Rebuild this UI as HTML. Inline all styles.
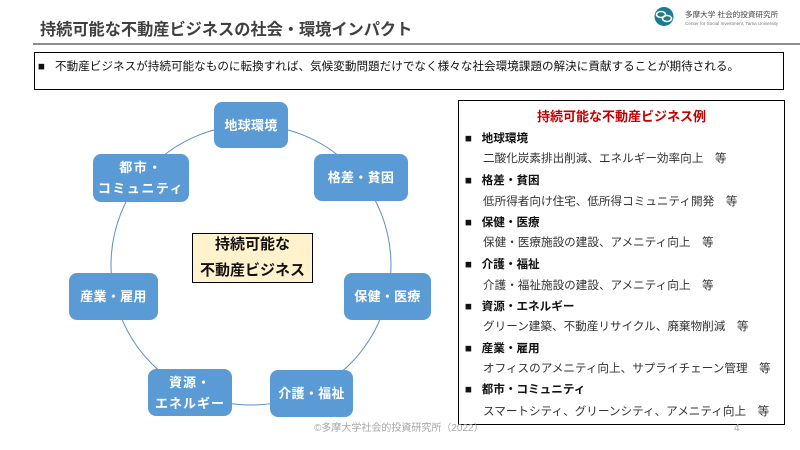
<!DOCTYPE html>
<html><head><meta charset="utf-8">
<style>
*{margin:0;padding:0;box-sizing:border-box}
body{width:800px;height:450px;background:#fff;position:relative;overflow:hidden;font-family:"Liberation Sans","Noto Sans CJK JP",sans-serif;}
.a{position:absolute;white-space:nowrap}
.node{position:absolute;background:#5b9bd5;border-radius:8px;color:#fff;font-weight:bold;font-size:13px;display:flex;flex-direction:column;align-items:center;justify-content:center;line-height:21px;letter-spacing:0.3px}
.li{position:absolute;left:465px;font-size:11.6px;line-height:20px;height:20px;white-space:nowrap}
.h{font-weight:bold;color:#111}
.d{color:#333;left:483px}
</style></head><body>
<div class="a" style="left:40px;top:19px;font-size:16.2px;font-weight:bold;color:#404040;line-height:22px">持続可能な不動産ビジネスの社会・環境インパクト</div>
<div class="a" style="left:33px;top:43px;width:767px;height:2px;background:#8e8e8e"></div>
<!-- logo -->
<svg class="a" style="left:650px;top:4px" width="30" height="26" viewBox="0 0 30 26">
<circle cx="14" cy="12.5" r="9.5" fill="#1b7c8f"/>
<ellipse cx="11" cy="10.5" rx="4.5" ry="3" fill="none" stroke="#fff" stroke-width="1.6"/>
<ellipse cx="17" cy="14.5" rx="4.5" ry="3" fill="none" stroke="#fff" stroke-width="1.6"/>
</svg>
<div class="a" style="left:685px;top:10px;font-size:7.6px;color:#444;line-height:10px">多摩大学 社会的投資研究所</div>
<div class="a" style="left:685px;top:21px;font-size:4.6px;color:#777;line-height:6px">Center for Social Investment, Tama University</div>
<!-- main box -->
<div class="a" style="left:34px;top:52px;width:750px;height:38px;border:1px solid #000"></div>
<div class="a" style="left:38px;top:59px;font-size:11.6px;line-height:16px;color:#111">■</div>
<div class="a" style="left:55px;top:59px;font-size:11.6px;line-height:16px;color:#111">不動産ビジネスが持続可能なものに転換すれば、気候変動問題だけでなく様々な社会環境課題の解決に貢献することが期待される。</div>
<!-- circle -->
<svg class="a" style="left:0;top:0" width="800" height="450"><circle cx="251" cy="265" r="140" fill="none" stroke="#5b8fc7" stroke-width="1"/></svg>
<div class="node" style="left:214px;top:102px;width:74px;height:46px">地球環境</div>
<div class="node" style="left:314px;top:154px;width:94px;height:47px">格差・貧困</div>
<div class="node" style="left:344px;top:273px;width:87px;height:47px">保健・医療</div>
<div class="node" style="left:270px;top:370px;width:83px;height:47px">介護・福祉</div>
<div class="node" style="left:148px;top:369px;width:84px;height:47px;letter-spacing:1px"><span>資源・</span><span>エネルギー</span></div>
<div class="node" style="left:69px;top:273px;width:89px;height:47px">産業・雇用</div>
<div class="node" style="left:93px;top:154px;width:96px;height:48px;letter-spacing:1.5px"><span>都市・</span><span>コミュニティ</span></div>
<div class="a" style="left:192px;top:233px;width:121px;height:50px;background:#fff2cc;border:1.5px solid #000;display:flex;flex-direction:column;align-items:center;justify-content:center;font-weight:bold;font-size:15px;line-height:26px;color:#111">
<span>持続可能な</span><span>不動産ビジネス</span></div>
<!-- right box -->
<div class="a" style="left:458px;top:100px;width:327px;height:325px;border:1.5px solid #000"></div>
<div class="a" style="left:458px;top:107px;width:327px;text-align:center;font-size:13px;font-weight:bold;color:#c00000;line-height:20px">持続可能な不動産ビジネス例</div>
<div class="li h" style="top:129px">■ &nbsp;&nbsp;地球環境</div>
<div class="li d" style="top:149px">二酸化炭素排出削減、エネルギー効率向上　等</div>
<div class="li h" style="top:171px">■ &nbsp;&nbsp;格差・貧困</div>
<div class="li d" style="top:192px">低所得者向け住宅、低所得コミュニティ開発　等</div>
<div class="li h" style="top:213px">■ &nbsp;&nbsp;保健・医療</div>
<div class="li d" style="top:233px">保健・医療施設の建設、アメニティ向上　等</div>
<div class="li h" style="top:255px">■ &nbsp;&nbsp;介護・福祉</div>
<div class="li d" style="top:276px">介護・福祉施設の建設、アメニティ向上　等</div>
<div class="li h" style="top:297px">■ &nbsp;&nbsp;資源・エネルギー</div>
<div class="li d" style="top:317px">グリーン建築、不動産リサイクル、廃棄物削減　等</div>
<div class="li h" style="top:339px">■ &nbsp;&nbsp;産業・雇用</div>
<div class="li d" style="top:359px">オフィスのアメニティ向上、サプライチェーン管理　等</div>
<div class="li h" style="top:380px">■ &nbsp;&nbsp;都市・コミュニティ</div>
<div class="li d" style="top:402px">スマートシティ、グリーンシティ、アメニティ向上　等</div>
<!-- footer -->
<div class="a" style="left:314px;top:422px;font-size:10px;color:#a6a6a6;line-height:14px">©多摩大学社会的投資研究所（2022）</div>
<div class="a" style="left:734px;top:422px;font-size:10px;color:#a6a6a6;line-height:14px">4</div>
</body></html>
